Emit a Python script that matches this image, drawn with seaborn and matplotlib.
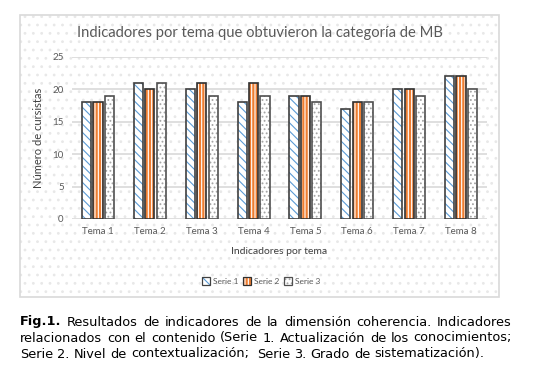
import matplotlib
matplotlib.use("Agg")
import matplotlib.pyplot as plt
import seaborn as sns
import pandas as pd
from matplotlib.patches import Rectangle, Patch

temas = ["Tema 1", "Tema 2", "Tema 3", "Tema 4", "Tema 5", "Tema 6", "Tema 7", "Tema 8"]
series = ["Serie 1", "Serie 2", "Serie 3"]
serie1 = [18, 21, 20, 18, 19, 17, 20, 22]
serie2 = [18, 20, 21, 21, 19, 18, 20, 22]
serie3 = [19, 21, 19, 19, 18, 18, 19, 20]
yticks = [0, 5, 10, 15, 20, 25]

title = "Indicadores por tema que obtuvieron la categoría de MB"
xlabel = "Indicadores por tema"
ylabel = "Número de cursistas"
caption_lines = [
    [("Fig.1.", "bold")] + [(w, "normal") for w in "Resultados de indicadores de la dimensión coherencia. Indicadores".split()],
    [(w, "normal") for w in "relacionados con el contenido (Serie 1. Actualización de los conocimientos;".split()],
    [(w, "normal") for w in "Serie 2. Nivel de contextualización;  Serie 3. Grado de sistematización).".split(" ")],
]

sns.set_theme(style="white")
plt.rcParams["font.family"] = ["Lato", "DejaVu Sans"]
plt.rcParams["hatch.linewidth"] = 0.8

W, H = 536, 374
fig = plt.figure(figsize=(W / 100, H / 100), dpi=100)
fig.patch.set_facecolor("white")

def fx(px): return px / W
def fy(py): return 1 - py / H

# chart box with dotted background
bx, by, bw, bh = fx(20), fy(297), fx(499) - fx(20), fy(15) - fy(297)
fig.patches.append(Rectangle((bx, by), bw, bh, transform=fig.transFigure, facecolor="white",
                             edgecolor="#e8e8e8", linewidth=0, hatch="..", zorder=-10))
fig.patches.append(Rectangle((bx, by), bw, bh, transform=fig.transFigure, facecolor="none",
                             edgecolor="#d9d9d9", linewidth=1.2, zorder=-9))

ax = fig.add_axes([fx(72), fy(219), fx(487) - fx(72), fy(57) - fy(219)])
ax.set_facecolor("none")
ax.set_zorder(5)

rows = []
for s, vals in zip(series, [serie1, serie2, serie3]):
    for t, v in zip(temas, vals):
        rows.append({"tema": t, "serie": s, "valor": v})
df = pd.DataFrame(rows)

sns.barplot(data=df, x="tema", y="valor", hue="serie", order=temas, hue_order=series,
            width=0.66, gap=0.2, ax=ax, legend=False, zorder=3)

styles = {
    "Serie 1": dict(facecolor="white", edgecolor="#5b9bd5", hatch="\\\\\\\\"),
    "Serie 2": dict(facecolor="#ed7d31", edgecolor="white", hatch="|||||"),
    "Serie 3": dict(facecolor="white", edgecolor="#a5a5a5", hatch="...."),
}
outline = {"Serie 1": "#404040", "Serie 2": "#303030", "Serie 3": "#505050"}
for i, cont in enumerate(ax.containers):
    s = series[i]
    for p in cont:
        p.set_facecolor(styles[s]["facecolor"])
        p.set_edgecolor(styles[s]["edgecolor"])
        p.set_hatch(styles[s]["hatch"])
        p.set_linewidth(0)
        r = Rectangle(p.get_xy(), p.get_width(), p.get_height(), facecolor="none",
                      edgecolor=outline[s], linewidth=1.2, zorder=4)
        ax.add_patch(r)

ax.set_ylim(0, 25)
ax.set_yticks(yticks)
ax.set_xlim(-0.5, len(temas) - 0.5)
ax.yaxis.grid(True, color="#d9d9d9", linewidth=1.2, zorder=0)
ax.set_axisbelow(True)
for sp in ax.spines.values():
    sp.set_visible(False)
ax.tick_params(axis="both", length=0, labelsize=7, labelcolor="#595959", pad=6)
ax.set_xlabel(xlabel, fontsize=7.5, color="#404040", labelpad=8)
ax.set_ylabel(ylabel, fontsize=8, color="#404040", labelpad=6)

fig.text(fx(260), fy(33), title, ha="center", va="center", fontsize=10.6, color="#595959")

handles = [(Patch(facecolor=styles[s]["facecolor"], edgecolor=styles[s]["edgecolor"],
                  hatch=styles[s]["hatch"], linewidth=0),
            Patch(facecolor="none", edgecolor=outline[s], linewidth=0.9)) for s in series]
leg = fig.legend(handles, series, loc="center", bbox_to_anchor=(fx(261), fy(281)), ncol=3,
                 frameon=False, fontsize=6, handlelength=1.0, handleheight=1.0,
                 handletextpad=0.3, columnspacing=0.6, labelcolor="#595959")

# caption, justified
fig.canvas.draw()
renderer = fig.canvas.get_renderer()
cap_fs = 9.3
line_y = [322, 338, 354]
left, right = 20, 512
for li, (words, yy) in enumerate(zip(caption_lines, line_y)):
    texts = []
    widths = []
    for w, wt in words:
        t = fig.text(0, fy(yy), w, fontsize=cap_fs, fontweight=wt, family="DejaVu Sans",
                     color="black", ha="left", va="center")
        bb = t.get_window_extent(renderer)
        texts.append(t)
        widths.append(bb.width if w else 0)
    if li < 2:
        gap = (right - left - sum(widths)) / (len(words) - 1)
    else:
        sp = fig.text(0, 0, "a b", fontsize=cap_fs, family="DejaVu Sans")
        sp2 = fig.text(0, 0, "ab", fontsize=cap_fs, family="DejaVu Sans")
        gap = sp.get_window_extent(renderer).width - sp2.get_window_extent(renderer).width
        sp.remove(); sp2.remove()
    x = left
    for t, w in zip(texts, widths):
        t.set_x(fx(x))
        x += w + gap

fig.savefig("out.png", dpi=100)
